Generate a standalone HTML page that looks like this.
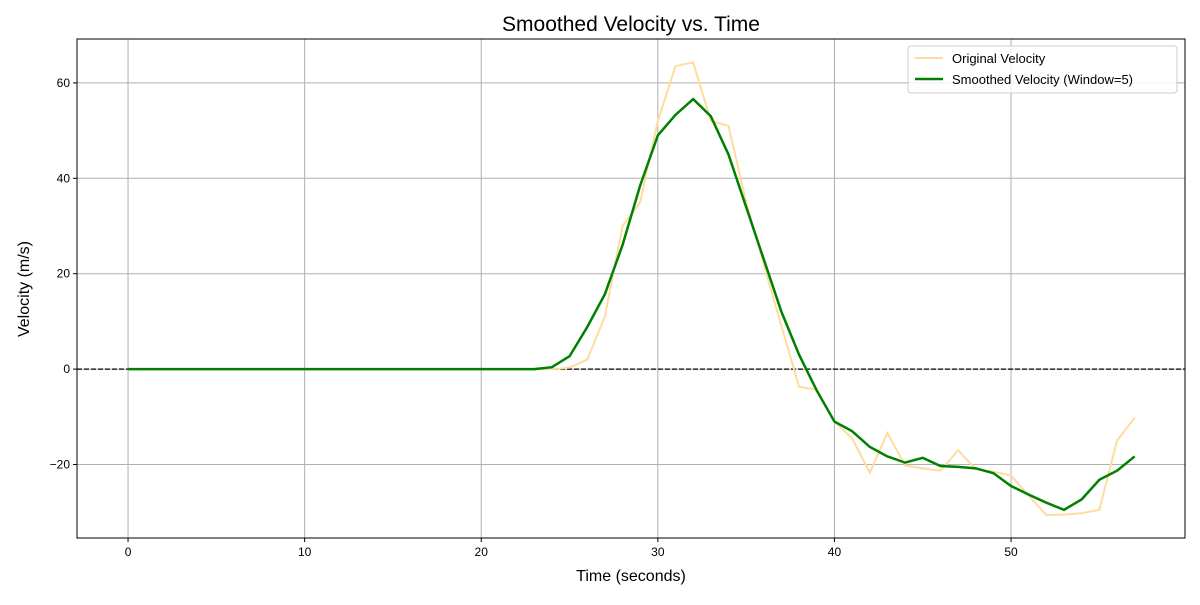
<!DOCTYPE html>
<html><head><meta charset="utf-8"><style>
body{margin:0;background:#fff;font-family:"Liberation Sans","DejaVu Sans",sans-serif}
</style></head><body>
<svg id="chart" width="1200" height="600" xmlns="http://www.w3.org/2000/svg">
<rect width="1200" height="600" fill="#fff"/>
<g id="grid"></g>
<g id="series"></g>
<rect x="77" y="39" width="1108" height="499" fill="none" stroke="#000" stroke-width="1"/>
<g id="ticks" font-size="12" fill="#000"></g>
<text x="631" y="31" text-anchor="middle" font-size="21">Smoothed Velocity vs. Time</text>
<text x="631" y="581" text-anchor="middle" font-size="16">Time (seconds)</text>
<text transform="translate(29,289) rotate(-90)" text-anchor="middle" font-size="16">Velocity (m/s)</text>
<g>
<rect x="908" y="46" width="269" height="47" rx="3" fill="#fff" fill-opacity="0.8" stroke="#ccc"/>
<g><line x1="915" y1="58" x2="943" y2="58" stroke="#ffdc9e" stroke-width="2"/><text x="952" y="63" font-size="13">Original Velocity</text></g>
<g><line x1="915" y1="79" x2="943" y2="79" stroke="#008000" stroke-width="2.5"/><text x="952" y="84" font-size="13">Smoothed Velocity (Window=5)</text></g>
</g>
</svg>
<script>
const time = Array.from({length:58},(_,i)=>i);
const originalVelocity = [0,0,0,0,0,0,0,0,0,0,0,0,0,0,0,0,0,0,0,0,0,0,0,0,0,0.3,2,11,30,35,52,63.5,64.3,52,51,35,22,9,-3.7,-4.3,-11,-14.5,-21.7,-13.4,-20.2,-20.8,-21.3,-17,-21,-21.5,-22.3,-26.5,-30.6,-30.5,-30.2,-29.5,-15,-10.2];
const smoothedVelocity = [0,0,0,0,0,0,0,0,0,0,0,0,0,0,0,0,0,0,0,0,0,0,0,0,0.4,2.7,8.8,15.7,26,38.5,49,53.3,56.6,53,45,34,23,12,3,-4.5,-11,-13,-16.3,-18.3,-19.6,-18.6,-20.3,-20.5,-20.8,-21.8,-24.5,-26.3,-28,-29.5,-27.3,-23.2,-21.3,-18.3];
const xTicks = [0,10,20,30,40,50];
const yTicks = [-20,0,20,40,60];
const X0=77,X1=1185,Y0=39,Y1=538,xmin=-2.89,xmax=59.85,ymin=-35.4,ymax=69.2;
const sx=v=>X0+(v-xmin)/(xmax-xmin)*(X1-X0);
const sy=v=>Y1-(v-ymin)/(ymax-ymin)*(Y1-Y0);
const NS="http://www.w3.org/2000/svg";
function mk(tag,attrs,parent){const e=document.createElementNS(NS,tag);for(const k in attrs)e.setAttribute(k,attrs[k]);parent.appendChild(e);return e;}
const grid=document.getElementById('grid'),ticks=document.getElementById('ticks'),series=document.getElementById('series');
xTicks.forEach(t=>{const x=sx(t);
 const g=mk('line',{x1:x,x2:x,y1:Y0,y2:Y1,stroke:'#b0b0b0','stroke-width':1},grid);
 
 
 mk('line',{x1:x,x2:x,y1:Y1,y2:Y1+4,stroke:'#000'},ticks);
 const l=mk('text',{x:x,y:Y1+18,'text-anchor':'middle'},ticks);l.textContent=t;
 
 
});
yTicks.forEach(t=>{const y=sy(t);
 const g=mk('line',{x1:X0,x2:X1,y1:y,y2:y,stroke:'#b0b0b0','stroke-width':1},grid);
 
 
 mk('line',{x1:X0-4,x2:X0,y1:y,y2:y,stroke:'#000'},ticks);
 const l=mk('text',{x:X0-7,y:y+4,'text-anchor':'end'},ticks);l.textContent=(t<0?'\u2212'+(-t):t);
 
 
});
const zl=mk('line',{x1:X0,x2:X1,y1:sy(0),y2:sy(0),stroke:'#000','stroke-width':1.2,'stroke-dasharray':'5,2'},series);


const p1=mk('polyline',{points:time.map((t,i)=>sx(t)+','+sy(originalVelocity[i])).join(' '),fill:'none',stroke:'#ffdc9e','stroke-width':2},series);


const p2=mk('polyline',{points:time.map((t,i)=>sx(t)+','+sy(smoothedVelocity[i])).join(' '),fill:'none',stroke:'#008000','stroke-width':2.5},series);


</script>
</body></html>
